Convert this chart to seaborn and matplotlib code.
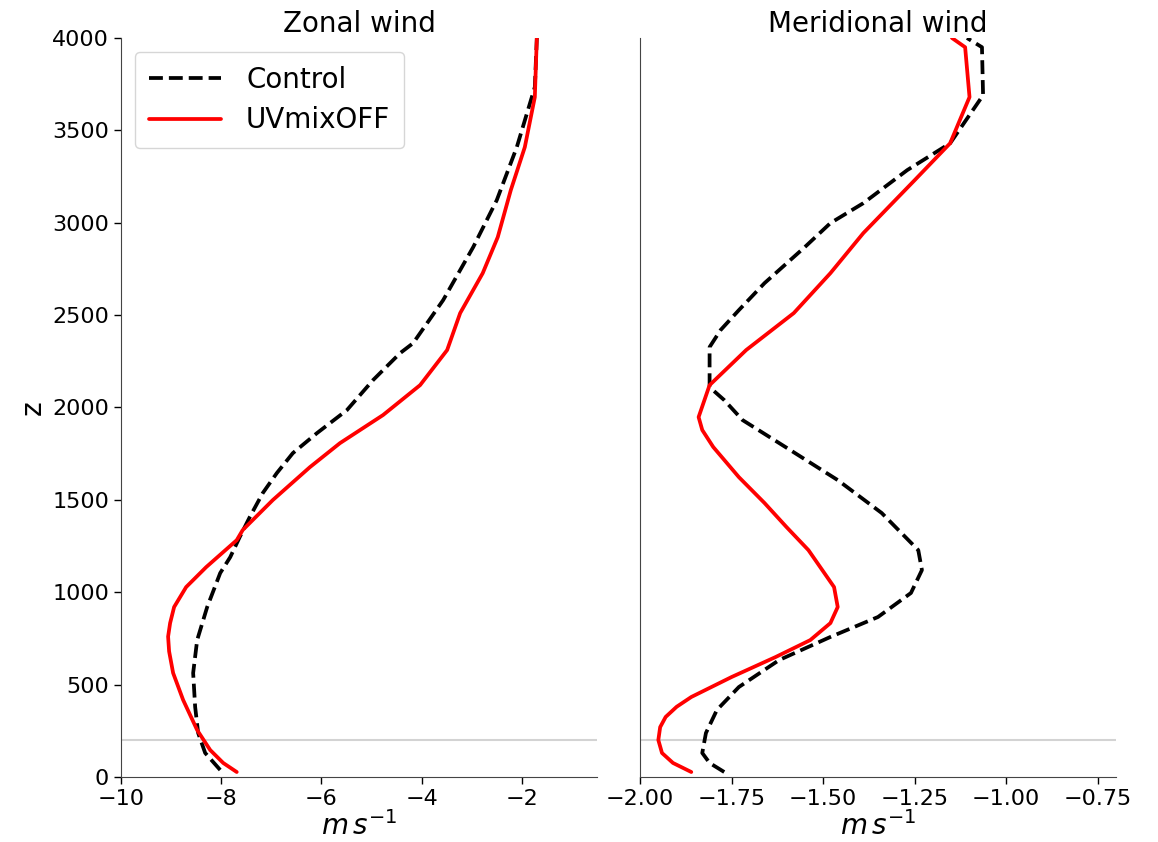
import numpy as np
import pandas as pd
import matplotlib
matplotlib.use("Agg")
import matplotlib.pyplot as plt
import seaborn as sns

# Zonal wind (m/s) vs height z (m)
z_u_ctrl = [38, 130, 238, 379, 563, 741, 920, 1104, 1190, 1299, 1407, 1537, 1645, 1753,
            1861, 1986, 2148, 2294, 2348, 2581, 2868, 3122, 3409, 3734, 4000]
u_ctrl = [-8.02, -8.32, -8.46, -8.52, -8.56, -8.48, -8.28, -8.02, -7.82, -7.63, -7.43,
          -7.17, -6.89, -6.57, -6.09, -5.49, -4.97, -4.43, -4.17, -3.57, -2.97, -2.50,
          -2.10, -1.74, -1.70]

z_u_mix = [27, 76, 146, 254, 417, 563, 680, 760, 833, 920, 1028, 1136, 1282, 1337, 1499,
           1677, 1807, 1959, 2121, 2311, 2511, 2727, 2922, 3176, 3409, 3680, 4000]
u_mix = [-7.69, -7.96, -8.22, -8.48, -8.76, -8.96, -9.04, -9.06, -9.02, -8.94, -8.70,
         -8.30, -7.69, -7.57, -6.97, -6.23, -5.63, -4.77, -4.03, -3.49, -3.23, -2.78,
         -2.48, -2.22, -1.94, -1.74, -1.70]

# Meridional wind (m/s) vs height z (m)
z_v_ctrl = [27, 76, 130, 238, 363, 487, 633, 758, 866, 996, 1120, 1228, 1429, 1607,
            1770, 1932, 2040, 2110, 2327, 2419, 2527, 2673, 2868, 2998, 3106, 3285,
            3430, 3690, 3950, 4000]
v_ctrl = [-1.77, -1.81, -1.83, -1.82, -1.79, -1.73, -1.62, -1.48, -1.35, -1.26, -1.23,
          -1.24, -1.34, -1.46, -1.59, -1.72, -1.77, -1.81, -1.81, -1.78, -1.73, -1.66,
          -1.55, -1.48, -1.39, -1.27, -1.153, -1.063, -1.066, -1.107]

z_v_mix = [27, 76, 130, 200, 270, 325, 380, 433, 541, 649, 741, 833, 920, 1028, 1228,
           1353, 1483, 1623, 1786, 1878, 1948, 2121, 2311, 2511, 2727, 2944, 3230, 3430,
           3680, 3950, 4000]
v_mix = [-1.86, -1.91, -1.94, -1.95, -1.945, -1.93, -1.90, -1.86, -1.75, -1.63, -1.535,
         -1.48, -1.46, -1.47, -1.54, -1.60, -1.66, -1.73, -1.80, -1.83, -1.84, -1.81,
         -1.71, -1.58, -1.48, -1.39, -1.25, -1.153, -1.10, -1.112, -1.148]

labels = ["Control", "UVmixOFF"]
titles = ["Zonal wind", "Meridional wind"]

sns.set_style("ticks")
plt.rcParams['font.family'] = ['DejaVu Sans']
plt.rcParams['text.color'] = 'black'
plt.rcParams['axes.labelcolor'] = 'black'
plt.rcParams['xtick.color'] = 'black'
plt.rcParams['ytick.color'] = 'black'

fig = plt.figure(figsize=(11.58, 8.42), dpi=100)
ax1 = fig.add_axes([0.1045, 0.0772, 0.411, 0.8777])
ax2 = fig.add_axes([0.5527, 0.0772, 0.411, 0.8777])

def draw(ax, zc, vc, zm, vm):
    dc = pd.DataFrame({"v": vc, "z": zc})
    dm = pd.DataFrame({"v": vm, "z": zm})
    ax.axhline(200, color="#d3d3d3", lw=1.5, zorder=1)
    sns.lineplot(data=dc, x="v", y="z", sort=False, estimator=None, ax=ax,
                 color="black", linestyle="--", lw=2.7, label=labels[0])
    sns.lineplot(data=dm, x="v", y="z", sort=False, estimator=None, ax=ax,
                 color="red", lw=2.7, label=labels[1])

draw(ax1, z_u_ctrl, u_ctrl, z_u_mix, u_mix)
draw(ax2, z_v_ctrl, v_ctrl, z_v_mix, v_mix)

ax1.set_xlim(-10, -0.5)
ax2.set_xlim(-2.0, -0.70)
ax2.set_xticks([-2.0, -1.75, -1.5, -1.25, -1.0, -0.75])
for ax, t in zip([ax1, ax2], titles):
    ax.set_ylim(0, 4000)
    ax.set_title(t, fontsize=20, pad=4)
    ax.set_xlabel(r"$m\,s^{-1}$", fontsize=20, labelpad=2)
    ax.tick_params(labelsize=16, length=5, width=1)
    for s in ["top", "right"]:
        ax.spines[s].set_visible(False)
    for s in ["left", "bottom"]:
        ax.spines[s].set_color("#444444")

ax1.set_yticks(np.arange(0, 4001, 500))
ax1.set_ylabel("z", fontsize=20)
ax2.set_yticks([])
ax2.set_ylabel("")
ax2.get_legend().remove()
ax1.legend(loc="upper left", fontsize=20, frameon=True, handlelength=2.6,
           borderpad=0.5, labelspacing=0.45, handletextpad=0.9)

fig.savefig("out.png", dpi=100)
